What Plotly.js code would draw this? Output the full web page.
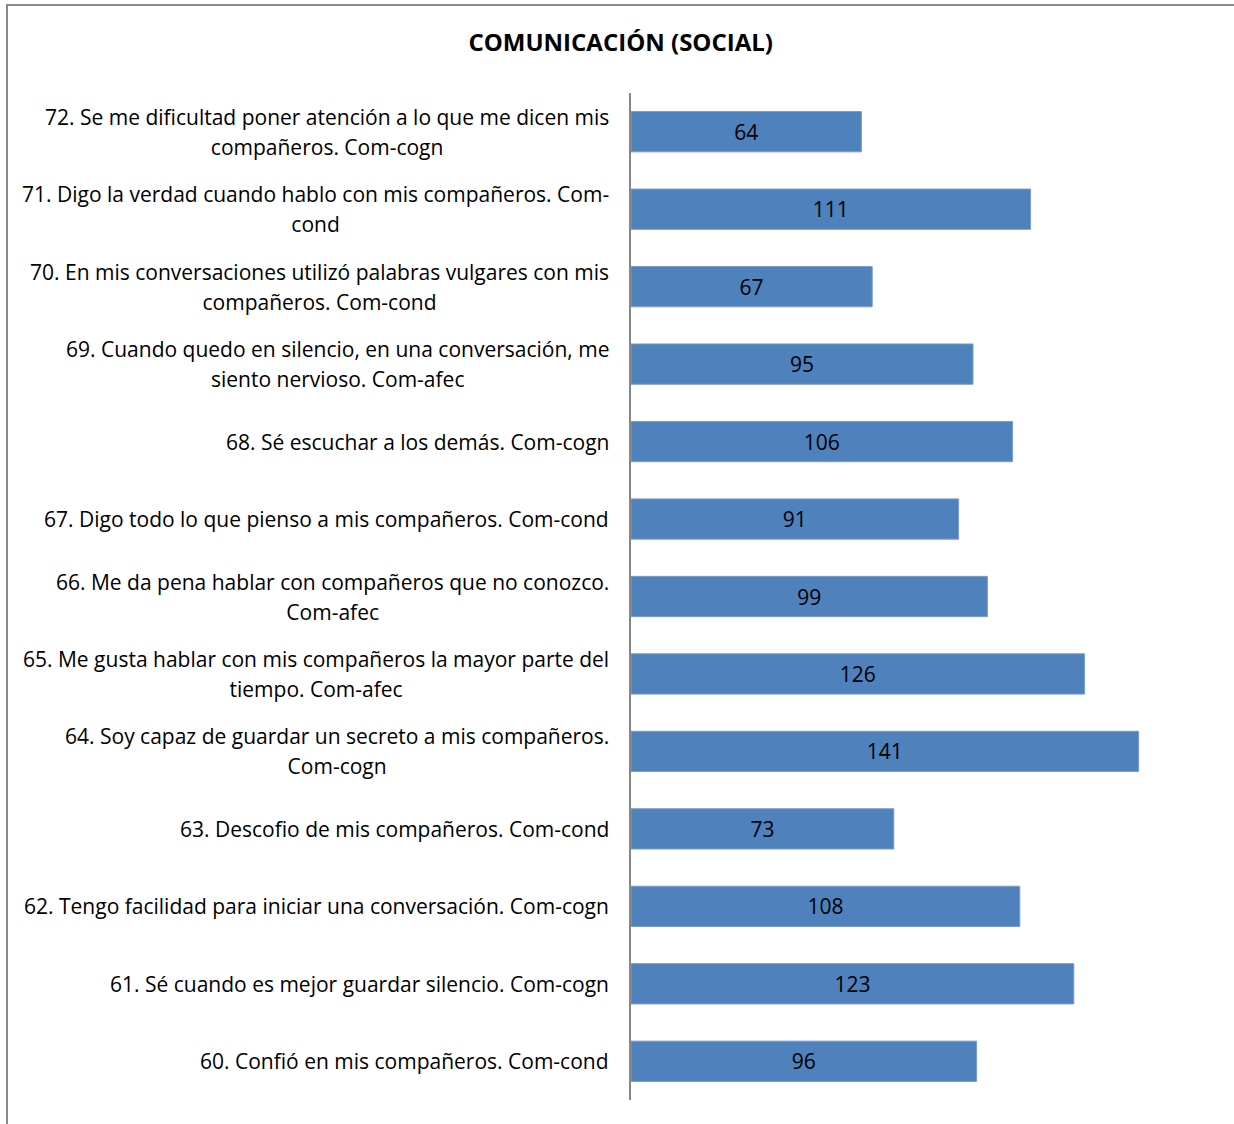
<!DOCTYPE html>
<html><head><meta charset="utf-8">
<script src="https://cdn.plot.ly/plotly-3.0.1.min.js"></script>
<style>
html,body{margin:0;padding:0;background:#fff;}
#wrap{position:absolute;left:0;top:0;width:1234px;height:1124px;}
#frame{position:absolute;left:6px;top:4px;width:1240px;height:1200px;border-top:2px solid #8a8a8a;border-left:2px solid #8a8a8a;pointer-events:none;}
#chart{position:absolute;left:0;top:0;width:1234px;height:1124px;}
</style></head>
<body>
<div id="wrap"><div id="chart"></div><div id="frame"></div></div>
<script>
const categories = ["60","61","62","63","64","65","66","67","68","69","70","71","72"];
const labelLines = [
  ["60. Confió en mis compañeros. Com-cond"],
  ["61. Sé cuando es mejor guardar silencio. Com-cogn"],
  ["62. Tengo facilidad para iniciar una conversación. Com-cogn"],
  ["63. Descofio de mis compañeros. Com-cond"],
  ["64. Soy capaz de guardar un secreto a mis compañeros.","Com-cogn"],
  ["65. Me gusta hablar con mis compañeros la mayor parte del","tiempo. Com-afec"],
  ["66. Me da pena hablar con compañeros que no conozco.","Com-afec"],
  ["67. Digo todo lo que pienso a mis compañeros. Com-cond"],
  ["68. Sé escuchar a los demás. Com-cogn"],
  ["69. Cuando quedo en silencio, en una conversación, me","siento nervioso. Com-afec"],
  ["70. En mis conversaciones utilizó palabras vulgares con mis","compañeros. Com-cond"],
  ["71. Digo la verdad cuando hablo con mis compañeros. Com-","cond"],
  ["72. Se me dificultad poner atención a lo que me dicen mis","compañeros. Com-cogn"]
];
const values = [96,123,108,73,141,126,99,91,106,95,67,111,64];
const titleText = "COMUNICACIÓN (SOCIAL)";

const FONT = "Open Sans, sans-serif";
const trace = {
  type: "bar",
  orientation: "h",
  y: categories,
  x: values,
  text: values.map(String),
  textposition: "inside",
  insidetextanchor: "middle",
  textfont: {family: FONT, size: 21, color: "#000"},
  marker: {color: "#4F81BD", line: {color: "#7A9CCB", width: 1}},
  width: 0.52,
  hoverinfo: "none"
};

const annotations = categories.map((c, i) => ({
  xref: "paper", yref: "y", x: 0, y: i,
  xanchor: "right", yanchor: "middle", xshift: -20,
  align: "center", showarrow: false,
  text: labelLines[i].map(s => '<span style="font-size:21px">' + s + '</span>').join("<br>"),
  font: {family: FONT, size: 23, color: "#000"}
}));

const layout = {
  width: 1234, height: 1124,
  margin: {l: 631, r: 27, t: 93, b: 24},
  paper_bgcolor: "#fff", plot_bgcolor: "#fff",
  showlegend: false,
  title: {text: "<b>" + titleText + "</b>", font: {family: FONT, size: 24, color: "#000"},
          xref: "container", x: 0.503, yref: "container", y: 0.962, xanchor: "center", yanchor: "middle"},
  xaxis: {range: [0, 160], showgrid: false, zeroline: false, showticklabels: false, showline: false, ticks: ""},
  yaxis: {type: "category", showticklabels: false, showgrid: false, zeroline: false,
          showline: true, linecolor: "#868686", linewidth: 2, ticks: "", range: [-0.5, 12.5]},
  annotations: annotations
};

Plotly.newPlot("chart", [trace], layout, {staticPlot: true, displayModeBar: false});
</script>
</body></html>
